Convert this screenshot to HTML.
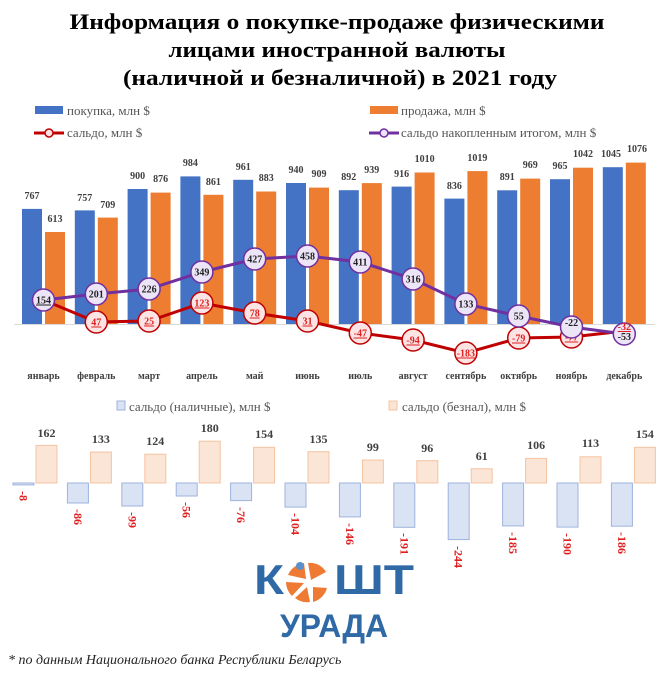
<!DOCTYPE html>
<html><head><meta charset="utf-8"><style>
html,body{margin:0;padding:0;background:#fff;width:662px;height:673px;overflow:hidden}
svg{display:block}
.t{font-family:"Liberation Serif",serif;font-weight:bold}
.v{font-family:"Liberation Serif",serif;font-weight:bold;font-size:10px;fill:#404040;text-anchor:middle}
.m{font-family:"Liberation Serif",serif;font-weight:bold;font-size:10px;fill:#404040;text-anchor:middle}
.pc{fill:#ece4f7;stroke:#7030a0;stroke-width:1.5}
.rc{fill:#fde4e4;stroke:#c00000;stroke-width:1.5}
.pt{font-family:"Liberation Serif",serif;font-weight:bold;font-size:10px;fill:#222;text-anchor:middle}
.rt{font-family:"Liberation Serif",serif;font-weight:bold;font-size:10px;fill:#e02020;text-anchor:middle;text-decoration:underline}
.b{fill:#4472c4}.o{fill:#ed7d31}
.lb{fill:#dae3f3;stroke:#9db3dd;stroke-width:1}
.lo{fill:#fbe5d6;stroke:#f4c3a0;stroke-width:1}
.bv{font-family:"Liberation Serif",serif;font-weight:bold;font-size:12px;fill:#404040;text-anchor:middle}
.nv{font-family:"Liberation Serif",serif;font-weight:bold;font-size:12px;fill:#e02020}
.lg{font-family:"Liberation Serif",serif;font-size:13px;fill:#555}
</style></head><body>
<svg width="662" height="673" viewBox="0 0 662 673" xmlns="http://www.w3.org/2000/svg">
<text class="t" x="337" y="29" font-size="22" text-anchor="middle" textLength="535" lengthAdjust="spacingAndGlyphs">Информация о покупке-продаже физическими</text>
<text class="t" x="337" y="57" font-size="22" text-anchor="middle" textLength="337" lengthAdjust="spacingAndGlyphs">лицами иностранной валюты</text>
<text class="t" x="340" y="85" font-size="22" text-anchor="middle" textLength="434" lengthAdjust="spacingAndGlyphs">(наличной и безналичной) в 2021 году</text>

<rect x="35" y="106" width="28" height="8" class="b"/>
<text x="67" y="115" class="lg" font-size="13" fill="#444">покупка, млн $</text>
<rect x="370" y="106" width="28" height="8" class="o"/>
<text x="401" y="115" class="lg" font-size="13" fill="#444">продажа, млн $</text>
<line x1="34" y1="133" x2="64" y2="133" stroke="#c00000" stroke-width="3"/><circle cx="49" cy="133" r="4" class="rc"/>
<text x="67" y="137" class="lg" font-size="13">сальдо, млн $</text>
<line x1="369" y1="133" x2="399" y2="133" stroke="#7030a0" stroke-width="3"/><circle cx="384" cy="133" r="4" class="pc"/>
<text x="401" y="137" class="lg" font-size="13">сальдо накопленным итогом, млн $</text>

<line x1="14" y1="324.5" x2="655" y2="324.5" stroke="#d9d9d9" stroke-width="1"/>
<g>
<rect class="b" x="22" y="208.9" width="20" height="115.1"/><rect class="o" x="45" y="232" width="20" height="92"/>
<rect class="b" x="74.8" y="210.4" width="20" height="113.6"/><rect class="o" x="97.8" y="217.6" width="20" height="106.4"/>
<rect class="b" x="127.6" y="189" width="20" height="135"/><rect class="o" x="150.6" y="192.6" width="20" height="131.4"/>
<rect class="b" x="180.4" y="176.4" width="20" height="147.6"/><rect class="o" x="203.4" y="194.8" width="20" height="129.2"/>
<rect class="b" x="233.2" y="179.8" width="20" height="144.2"/><rect class="o" x="256.2" y="191.5" width="20" height="132.5"/>
<rect class="b" x="286" y="183" width="20" height="141"/><rect class="o" x="309" y="187.6" width="20" height="136.4"/>
<rect class="b" x="338.8" y="190.2" width="20" height="133.8"/><rect class="o" x="361.8" y="183.1" width="20" height="140.9"/>
<rect class="b" x="391.6" y="186.6" width="20" height="137.4"/><rect class="o" x="414.6" y="172.5" width="20" height="151.5"/>
<rect class="b" x="444.4" y="198.6" width="20" height="125.4"/><rect class="o" x="467.4" y="171.1" width="20" height="152.9"/>
<rect class="b" x="497.2" y="190.3" width="20" height="133.7"/><rect class="o" x="520.2" y="178.6" width="20" height="145.4"/>
<rect class="b" x="550" y="179.2" width="20" height="144.8"/><rect class="o" x="573" y="167.7" width="20" height="156.3"/>
<rect class="b" x="602.8" y="167.2" width="20" height="156.8"/><rect class="o" x="625.8" y="162.6" width="20" height="161.4"/>
</g>
<g>
<text class="v" x="32" y="199">767</text><text class="v" x="55" y="222">613</text>
<text class="v" x="84.8" y="201">757</text><text class="v" x="107.8" y="208">709</text>
<text class="v" x="137.6" y="179">900</text><text class="v" x="160.6" y="182">876</text>
<text class="v" x="190.4" y="166">984</text><text class="v" x="213.4" y="185">861</text>
<text class="v" x="243.2" y="170">961</text><text class="v" x="266.2" y="181">883</text>
<text class="v" x="296" y="173">940</text><text class="v" x="319" y="177">909</text>
<text class="v" x="348.8" y="180">892</text><text class="v" x="371.8" y="173">939</text>
<text class="v" x="401.6" y="177">916</text><text class="v" x="424.6" y="162">1010</text>
<text class="v" x="454.4" y="189">836</text><text class="v" x="477.4" y="161">1019</text>
<text class="v" x="507.2" y="180">891</text><text class="v" x="530.2" y="168">969</text>
<text class="v" x="560" y="169">965</text><text class="v" x="583" y="157">1042</text>
<text class="v" x="611" y="157">1045</text><text class="v" x="637" y="152">1076</text>
</g>

<polyline fill="none" stroke="#c00000" stroke-width="3" points="43.5,300 96.3,322 149.1,321 201.9,303 254.7,313 307.5,321 360.3,333 413.1,340 465.9,353 518.7,338 571.5,337 624.3,331"/>
<g>
<circle class="rc" cx="96.3" cy="322" r="11"/><text class="rt" x="96.3" y="325.5">47</text>
<circle class="rc" cx="149.1" cy="321" r="11"/><text class="rt" x="149.1" y="324.5">25</text>
<circle class="rc" cx="201.9" cy="303" r="11"/><text class="rt" x="201.9" y="306.5">123</text>
<circle class="rc" cx="254.7" cy="313" r="11"/><text class="rt" x="254.7" y="316.5">78</text>
<circle class="rc" cx="307.5" cy="321" r="11"/><text class="rt" x="307.5" y="324.5">31</text>
<circle class="rc" cx="360.3" cy="333" r="11"/><text class="rt" x="360.3" y="336.5">-47</text>
<circle class="rc" cx="413.1" cy="340" r="11"/><text class="rt" x="413.1" y="343.5">-94</text>
<circle class="rc" cx="465.9" cy="353" r="11"/><text class="rt" x="465.9" y="356.5">-183</text>
<circle class="rc" cx="518.7" cy="338" r="11"/><text class="rt" x="518.7" y="341.5">-79</text>
<circle class="rc" cx="571.5" cy="337" r="11"/><text class="rt" x="571.5" y="340.5">-77</text>
</g>
<polyline fill="none" stroke="#7030a0" stroke-width="3" points="43.5,300 96.3,294 149.1,289 201.9,272 254.7,259 307.5,256 360.3,262 413.1,279 465.9,304 518.7,316 571.5,327 624.3,334"/>
<g>
<circle class="pc" cx="43.5" cy="300" r="11"/><text class="pt" x="43.5" y="303.5" text-decoration="underline">154</text>
<circle class="pc" cx="96.3" cy="294" r="11"/><text class="pt" x="96.3" y="297.5">201</text>
<circle class="pc" cx="149.1" cy="289" r="11"/><text class="pt" x="149.1" y="292.5">226</text>
<circle class="pc" cx="201.9" cy="272" r="11"/><text class="pt" x="201.9" y="275.5">349</text>
<circle class="pc" cx="254.7" cy="259" r="11"/><text class="pt" x="254.7" y="262.5">427</text>
<circle class="pc" cx="307.5" cy="256" r="11"/><text class="pt" x="307.5" y="259.5">458</text>
<circle class="pc" cx="360.3" cy="262" r="11"/><text class="pt" x="360.3" y="265.5">411</text>
<circle class="pc" cx="413.1" cy="279" r="11"/><text class="pt" x="413.1" y="282.5">316</text>
<circle class="pc" cx="465.9" cy="304" r="11"/><text class="pt" x="465.9" y="307.5">133</text>
<circle class="pc" cx="518.7" cy="316" r="11"/><text class="pt" x="518.7" y="319.5">55</text>
<circle class="pc" cx="571.5" cy="327" r="11"/><text class="pt" x="571.5" y="326">-22</text>
<circle class="pc" cx="624.3" cy="334" r="11"/><text class="rt" x="624.3" y="330">-32</text><text class="pt" x="624.3" y="340">-53</text>
</g>
<g>
<text class="m" x="43.5" y="379">январь</text><text class="m" x="96.3" y="379">февраль</text>
<text class="m" x="149.1" y="379">март</text><text class="m" x="201.9" y="379">апрель</text>
<text class="m" x="254.7" y="379">май</text><text class="m" x="307.5" y="379">июнь</text>
<text class="m" x="360.3" y="379">июль</text><text class="m" x="413.1" y="379">август</text>
<text class="m" x="465.9" y="379">сентябрь</text><text class="m" x="518.7" y="379">октябрь</text>
<text class="m" x="571.5" y="379">ноябрь</text><text class="m" x="624.3" y="379">декабрь</text>
</g>

<rect x="117" y="401" width="8" height="9" class="lb"/>
<text x="129" y="411" class="lg" font-size="14">сальдо (наличные), млн $</text>
<rect x="389" y="401" width="8" height="9" class="lo"/>
<text x="402" y="411" class="lg" font-size="14">сальдо (безнал), млн $</text>

<g>
<rect class="lo" x="36" y="445.4" width="21" height="37.6"/><rect class="lb" x="13" y="483" width="21" height="1.9"/>
<rect class="lo" x="90.4" y="452.1" width="21" height="30.9"/><rect class="lb" x="67.4" y="483" width="21" height="20"/>
<rect class="lo" x="144.8" y="454.2" width="21" height="28.8"/><rect class="lb" x="121.8" y="483" width="21" height="23"/>
<rect class="lo" x="199.2" y="441.2" width="21" height="41.8"/><rect class="lb" x="176.2" y="483" width="21" height="13"/>
<rect class="lo" x="253.6" y="447.3" width="21" height="35.7"/><rect class="lb" x="230.6" y="483" width="21" height="17.6"/>
<rect class="lo" x="308" y="451.7" width="21" height="31.3"/><rect class="lb" x="285" y="483" width="21" height="24.1"/>
<rect class="lo" x="362.4" y="460" width="21" height="23"/><rect class="lb" x="339.4" y="483" width="21" height="33.9"/>
<rect class="lo" x="416.8" y="460.7" width="21" height="22.3"/><rect class="lb" x="393.8" y="483" width="21" height="44.3"/>
<rect class="lo" x="471.2" y="468.8" width="21" height="14.2"/><rect class="lb" x="448.2" y="483" width="21" height="56.6"/>
<rect class="lo" x="525.6" y="458.4" width="21" height="24.6"/><rect class="lb" x="502.6" y="483" width="21" height="42.9"/>
<rect class="lo" x="580" y="456.8" width="21" height="26.2"/><rect class="lb" x="557" y="483" width="21" height="44.1"/>
<rect class="lo" x="634.4" y="447.3" width="21" height="35.7"/><rect class="lb" x="611.4" y="483" width="21" height="43.2"/>
</g>
<g>
<text class="bv" x="46.5" y="437">162</text><text class="bv" x="100.9" y="443">133</text>
<text class="bv" x="155.3" y="445">124</text><text class="bv" x="209.7" y="432">180</text>
<text class="bv" x="264.1" y="438">154</text><text class="bv" x="318.5" y="443">135</text>
<text class="bv" x="372.9" y="451">99</text><text class="bv" x="427.3" y="452">96</text>
<text class="bv" x="481.7" y="460">61</text><text class="bv" x="536.1" y="449">106</text>
<text class="bv" x="590.5" y="447">113</text><text class="bv" x="644.9" y="438">154</text>
</g>
<g>
<text class="nv" transform="translate(19.5,491) rotate(90)">-8</text>
<text class="nv" transform="translate(73.9,509) rotate(90)">-86</text>
<text class="nv" transform="translate(128.3,512) rotate(90)">-99</text>
<text class="nv" transform="translate(182.7,502) rotate(90)">-56</text>
<text class="nv" transform="translate(237.1,507) rotate(90)">-76</text>
<text class="nv" transform="translate(291.5,513) rotate(90)">-104</text>
<text class="nv" transform="translate(345.9,523) rotate(90)">-146</text>
<text class="nv" transform="translate(400.3,533) rotate(90)">-191</text>
<text class="nv" transform="translate(454.7,546) rotate(90)">-244</text>
<text class="nv" transform="translate(509.1,532) rotate(90)">-185</text>
<text class="nv" transform="translate(563.5,533) rotate(90)">-190</text>
<text class="nv" transform="translate(617.9,532) rotate(90)">-186</text>
</g>

<g font-family="Liberation Sans, sans-serif" font-weight="bold" fill="#2f6aa7">
<text x="254" y="594" font-size="42" textLength="30" lengthAdjust="spacingAndGlyphs">К</text>
<text x="334" y="594" font-size="42" textLength="80" lengthAdjust="spacingAndGlyphs">ШТ</text>
<text x="280" y="637" font-size="32" textLength="108" lengthAdjust="spacingAndGlyphs">УРАДА</text>
</g>
<g fill="#ee7a33">
<path d="M308,563 A18,18 0 0,1 326,572 L311,580 Z"/>
<path d="M288,575 A20,20 0 0,1 304,563 L306,579 Z"/>
<path d="M286,582 L304,583 L292,596 A20,20 0 0,1 286,582 Z"/>
<path d="M295,598 L307,587 L310,602 A20,20 0 0,1 295,598 Z"/>
<path d="M313,587 L327,588 A20,20 0 0,1 313,602 Z"/>
</g>
<circle cx="300" cy="566" r="4" fill="#5b8fc9"/>

<text x="8" y="664" font-family="Liberation Serif, serif" font-style="italic" font-size="14" fill="#222">* по данным Национального банка Республики Беларусь</text>
</svg>
</body></html>
